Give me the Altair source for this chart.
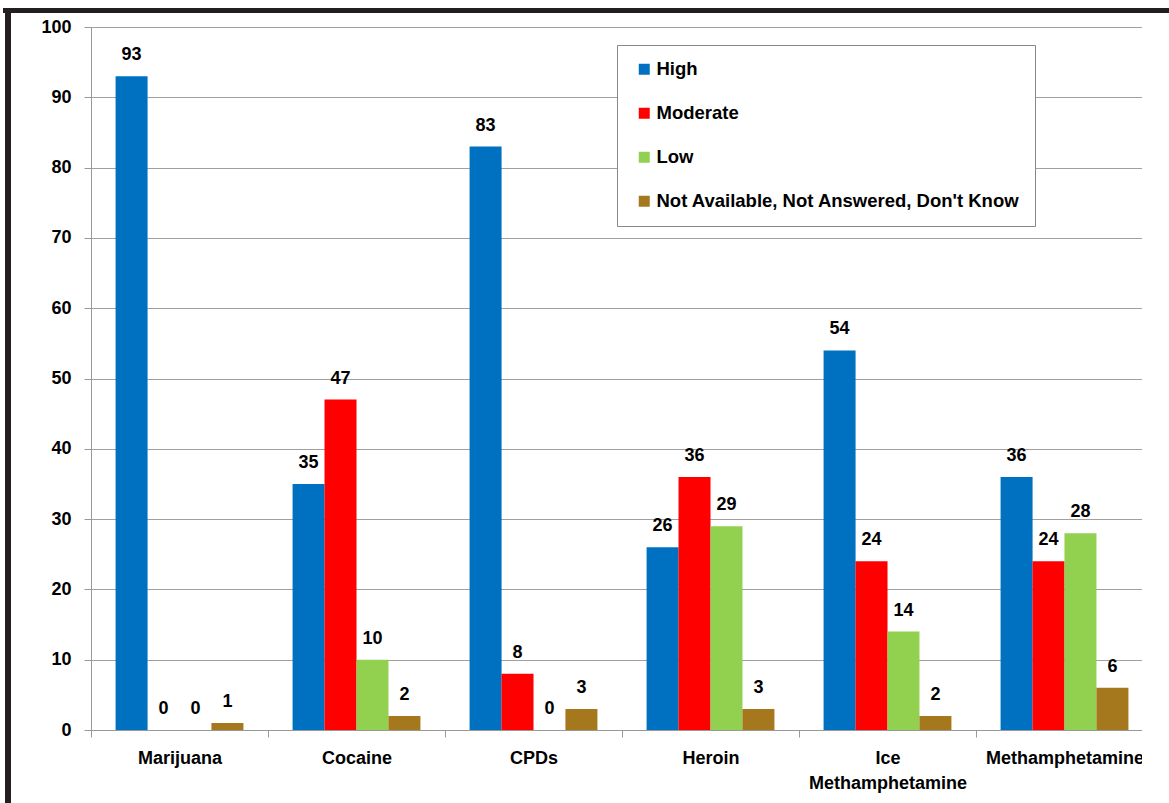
import altair as alt
import pandas as pd

drugs = ["Marijuana", "Cocaine", "CPDs", "Heroin", "Ice Methamphetamine", "Methamphetamine"]
levels = ["High", "Moderate", "Low", "Not Available, Not Answered, Don't Know"]
colors = ["#0070C0", "#FF0000", "#92D050", "#A5781E"]
high = [93, 35, 83, 26, 54, 36]
moderate = [0, 47, 8, 36, 24, 24]
low = [0, 10, 0, 29, 14, 28]
na = [1, 2, 3, 3, 2, 6]

rows = []
for i, d in enumerate(drugs):
    for lv, vals in zip(levels, [high, moderate, low, na]):
        rows.append({"drug": d, "level": lv, "value": vals[i]})
df = pd.DataFrame(rows)

FONT = "Liberation Sans"
W, H = 1062, 703

x = alt.X("drug:N", sort=drugs, title=None,
          scale=alt.Scale(paddingInner=0, paddingOuter=0),
          axis=alt.Axis(labelAngle=0, labelFont=FONT, labelFontSize=18, labelFontWeight="bold",
                        labelColor="black", labelPadding=12, labelBaseline="top",
                        labelLineHeight=25, labelLimit=400,
                        labelExpr="datum.label == 'Ice Methamphetamine' ? ['Ice', 'Methamphetamine'] : datum.label",
                        tickBand="extent", tickSize=7, tickColor="#999999", domainColor="#999999",
                        grid=False))
xo = alt.XOffset("level:N", sort=levels, scale=alt.Scale(paddingInner=0, paddingOuter=0.77))
y = alt.Y("value:Q", title=None,
          scale=alt.Scale(domain=[0, 100], nice=False),
          axis=alt.Axis(values=list(range(0, 101, 10)), labelFont=FONT, labelFontSize=18,
                        labelFontWeight="bold", labelColor="black", labelPadding=13,
                        tickSize=7, tickColor="#999999", domainColor="#999999",
                        grid=True, gridColor="#a0a0a0", gridWidth=1))

base = alt.Chart(df)

bars = base.mark_bar(size=32).encode(
    x=x, xOffset=xo, y=y,
    color=alt.Color("level:N", sort=levels,
                    scale=alt.Scale(domain=levels, range=colors),
                    legend=alt.Legend(title=None, orient="none", legendX=526, legendY=18,
                                      symbolType="square", symbolSize=121, symbolStrokeWidth=0,
                                      symbolOffset=3,
                                      labelFont=FONT, labelFontSize=18.5, labelFontWeight="bold",
                                      labelColor="black", labelLimit=500, labelOffset=3,
                                      rowPadding=25, padding=15, strokeColor="#888888",
                                      fillColor="white"))
)

text = base.mark_text(font=FONT, fontSize=18, fontWeight="bold", color="black",
                      baseline="alphabetic", dy=-16).encode(
    x=alt.X("drug:N", sort=drugs), xOffset=alt.XOffset("level:N", sort=levels), y="value:Q",
    text="value:Q"
)

one = pd.DataFrame({"a": [0]})
# white mask reproducing the cropped right edge of the original picture
mask = alt.Chart(one).mark_rect(color="white").encode(
    x=alt.value(1051), x2=alt.value(1080), y=alt.value(-10), y2=alt.value(776)
)
border_top = alt.Chart(one).mark_rule(color="#231f20", strokeWidth=5).encode(
    x=alt.value(-88), x2=alt.value(1078), y=alt.value(-16.5)
)
border_left = alt.Chart(one).mark_rule(color="#231f20", strokeWidth=6).encode(
    x=alt.value(-83), y=alt.value(-19), y2=alt.value(776)
)

chart = alt.layer(bars, text, mask, border_top, border_left).properties(
    width=W, height=H,
    padding={"left": 91, "top": 27, "right": 16, "bottom": 73},
    autosize=alt.AutoSizeParams(type="none"),
    background="white"
).configure_view(stroke=None)

chart.save("out.html", embed_options={"renderer": "svg", "actions": False})
